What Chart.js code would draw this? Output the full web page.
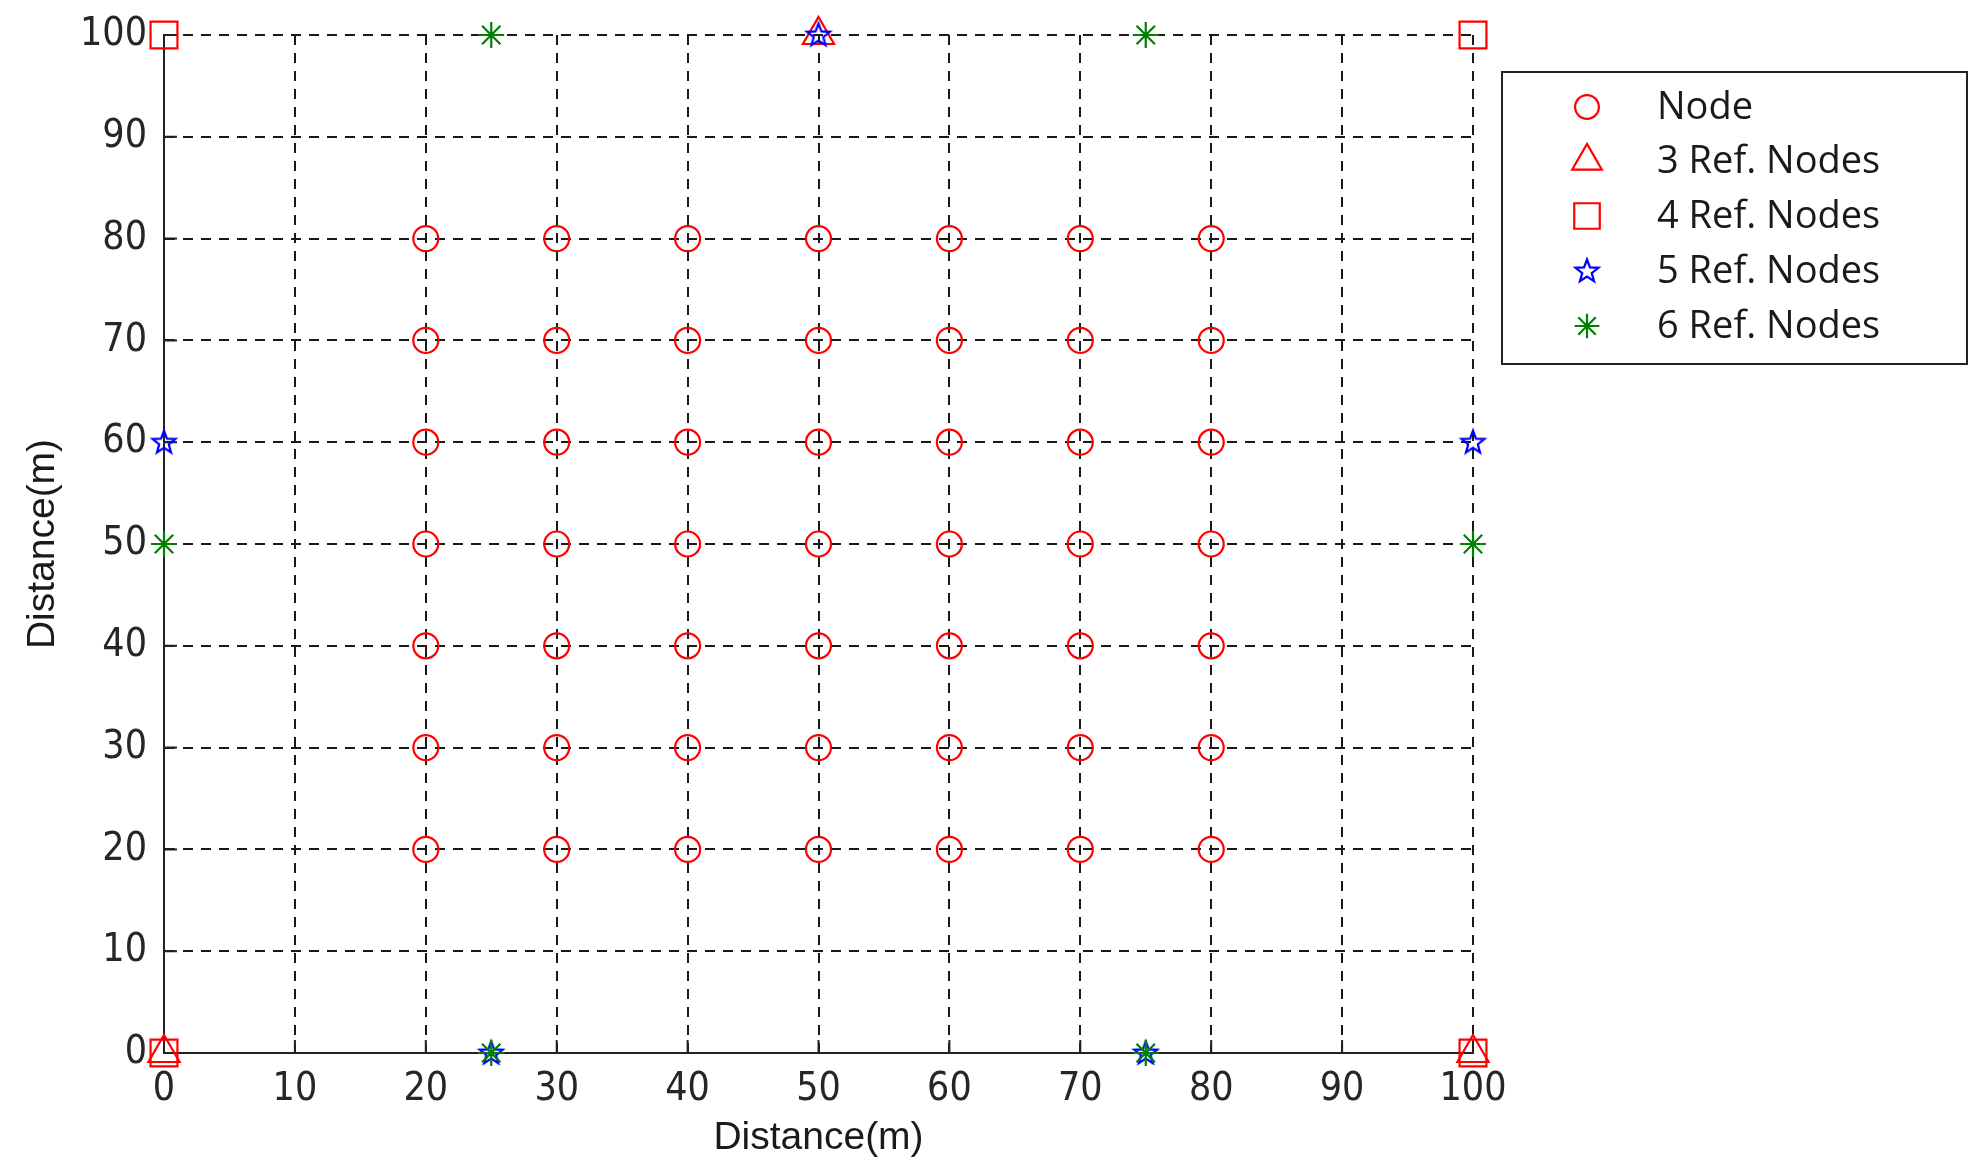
<!DOCTYPE html>
<html>
<head>
<meta charset="utf-8">
<script src="https://cdn.jsdelivr.net/npm/chart.js@4.4.1/dist/chart.umd.min.js"></script>
<style>
  html, body { margin: 0; padding: 0; background: #fff; }
  #wrap { width: 1985px; height: 1176px; }
</style>
</head>
<body>
<div id="wrap"><canvas id="chart"></canvas></div>
<script>
// --- data ---
const seriesNames = ['Node', '3 Ref. Nodes', '4 Ref. Nodes', '5 Ref. Nodes', '6 Ref. Nodes'];
const tickValues = [0, 10, 20, 30, 40, 50, 60, 70, 80, 90, 100];
const xTitle = 'Distance(m)';
const yTitle = 'Distance(m)';

// regular nodes (7 x 7 grid)
const nodeX = [20, 30, 40, 50, 60, 70, 80,  20, 30, 40, 50, 60, 70, 80,  20, 30, 40, 50, 60, 70, 80,
               20, 30, 40, 50, 60, 70, 80,  20, 30, 40, 50, 60, 70, 80,  20, 30, 40, 50, 60, 70, 80,
               20, 30, 40, 50, 60, 70, 80];
const nodeY = [20, 20, 20, 20, 20, 20, 20,  30, 30, 30, 30, 30, 30, 30,  40, 40, 40, 40, 40, 40, 40,
               50, 50, 50, 50, 50, 50, 50,  60, 60, 60, 60, 60, 60, 60,  70, 70, 70, 70, 70, 70, 70,
               80, 80, 80, 80, 80, 80, 80];
const ref3X = [50, 0, 100];
const ref3Y = [100, 0, 0];
const ref4X = [0, 100, 0, 100];
const ref4Y = [0, 0, 100, 100];
const ref5X = [50, 0, 100, 25, 75];
const ref5Y = [100, 60, 60, 0, 0];
const ref6X = [25, 75, 0, 100, 25, 75];
const ref6Y = [100, 100, 50, 50, 0, 0];

const RED = '#ff0000', BLUE = '#0000ff', GREEN = '#008000', INK = '#222222';
const TICK_FONT = "'DejaVu Sans Condensed', 'Liberation Sans Narrow', 'Liberation Sans', sans-serif";
const TITLE_FONT = "'Liberation Sans', Arial, sans-serif";
const LEGEND_FONT = "'Open Sans', 'Noto Sans', sans-serif";

const toPoints = (xs, ys) => xs.map((x, i) => ({ x, y: ys[i] }));

// MATLAB-like pentagram marker (outline only)
function makePentagram(color) {
    const c = document.createElement('canvas');
    c.width = 30; c.height = 30;
    const g = c.getContext('2d');
    const R = 12, r = 5, cx = 15, cy = 15.5;
    g.beginPath();
    for (let k = 0; k < 10; k++) {
        const rad = (k % 2 === 0 ? R : r);
        const a = -Math.PI / 2 + k * Math.PI / 5;
        const px = cx + rad * Math.cos(a), py = cy + rad * Math.sin(a);
        k === 0 ? g.moveTo(px, py) : g.lineTo(px, py);
    }
    g.closePath();
    g.lineWidth = 2.2;
    g.lineJoin = 'miter';
    g.strokeStyle = color;
    g.stroke();
    return c;
}
const pentagram = makePentagram(BLUE);

const markers = [
    { style: 'circle',   radius: 12.5, color: RED },
    { style: 'triangle', radius: 18,   color: RED },
    { style: 'rect',     radius: 19,   color: RED },
    { style: pentagram,  radius: 12,   color: BLUE },
    { style: 'star',     radius: 13,   color: GREEN }
];
const seriesPoints = [
    toPoints(nodeX, nodeY), toPoints(ref3X, ref3Y), toPoints(ref4X, ref4Y),
    toPoints(ref5X, ref5Y), toPoints(ref6X, ref6Y)
];

const datasets = seriesNames.map((name, i) => ({
    label: name,
    data: seriesPoints[i],
    showLine: false,
    pointStyle: markers[i].style,
    pointRadius: markers[i].radius,
    pointHoverRadius: markers[i].radius,
    pointBorderColor: markers[i].color,
    pointBackgroundColor: 'rgba(0,0,0,0)',
    pointBorderWidth: 2.2,
    order: seriesNames.length - i, // later series drawn on top, like MATLAB
    clip: false
}));

// small tick marks pointing into the plot (left and bottom axes only)
const innerTicks = {
    id: 'innerTicks',
    beforeDatasetsDraw(chart) {
        const { ctx, chartArea, scales } = chart;
        const len = 13;
        ctx.save();
        ctx.strokeStyle = INK;
        ctx.lineWidth = 2;
        ctx.beginPath();
        tickValues.forEach(v => {
            const px = scales.x.getPixelForValue(v);
            ctx.moveTo(px, chartArea.bottom);
            ctx.lineTo(px, chartArea.bottom - len);
            const py = scales.y.getPixelForValue(v);
            ctx.moveTo(chartArea.left, py);
            ctx.lineTo(chartArea.left + len, py);
        });
        ctx.stroke();
        ctx.restore();
    }
};

// boxed legend to the right of the axes
const boxLegend = {
    id: 'boxLegend',
    afterDraw(chart) {
        const { ctx } = chart;
        const box = { x: 1502, y: 72, w: 465, h: 292 };
        ctx.save();
        ctx.fillStyle = '#fff';
        ctx.fillRect(box.x, box.y, box.w, box.h);
        ctx.strokeStyle = INK;
        ctx.lineWidth = 2;
        ctx.strokeRect(box.x, box.y, box.w, box.h);
        const rowY = [107, 161, 216, 271, 326];
        ctx.font = '38px ' + LEGEND_FONT;
        ctx.textBaseline = 'middle';
        ctx.textAlign = 'left';
        seriesNames.forEach((name, i) => {
            const m = markers[i];
            ctx.strokeStyle = m.color;
            ctx.fillStyle = 'rgba(0,0,0,0)';
            ctx.lineWidth = 2.2;
            Chart.helpers.drawPoint(ctx, {
                pointStyle: m.style, radius: m.radius * 0.95, borderWidth: 2.2, rotation: 0
            }, 1587, rowY[i]);
            ctx.fillStyle = '#1a1a1a';
            ctx.fillText(name, 1657, rowY[i] + 1);
        });
        ctx.restore();
    }
};

const axisCommon = {
    type: 'linear',
    min: tickValues[0],
    max: tickValues[tickValues.length - 1],
    grid: { color: '#1a1a1a', lineWidth: 2, drawTicks: false },
    border: { display: true, color: INK, width: 2, dash: [10, 8] },
    ticks: {
        stepSize: tickValues[1] - tickValues[0],
        color: '#262626',
        font: { family: TICK_FONT, size: 39 },
        autoSkip: false,
        maxRotation: 0
    }
};

new Chart(document.getElementById('chart'), {
    type: 'scatter',
    data: { datasets },
    options: {
        responsive: true,
        maintainAspectRatio: false,
        devicePixelRatio: 1,
        animation: false,
        events: [],
        layout: { padding: { left: 0, top: 35, right: 512, bottom: 0 } },
        plugins: { legend: { display: false }, tooltip: { enabled: false } },
        scales: {
            x: {
                ...axisCommon,
                position: 'bottom',
                ticks: { ...axisCommon.ticks, padding: 13 },
                title: { display: true, text: xTitle, color: '#1a1a1a',
                         font: { family: TITLE_FONT, size: 39 }, padding: { top: 0, bottom: 14 } },
                afterFit(scale) { scale.height = 123; }
            },
            y: {
                ...axisCommon,
                position: 'left',
                ticks: { ...axisCommon.ticks, padding: 17,
                         font: { family: TICK_FONT, size: 39, lineHeight: 0.8 } },
                title: { display: true, text: yTitle, color: '#1a1a1a',
                         font: { family: TITLE_FONT, size: 39 }, padding: { top: 20, bottom: 0 } },
                afterFit(scale) { scale.width = 164; }
            }
        }
    },
    plugins: [innerTicks, boxLegend]
});
</script>
</body>
</html>
